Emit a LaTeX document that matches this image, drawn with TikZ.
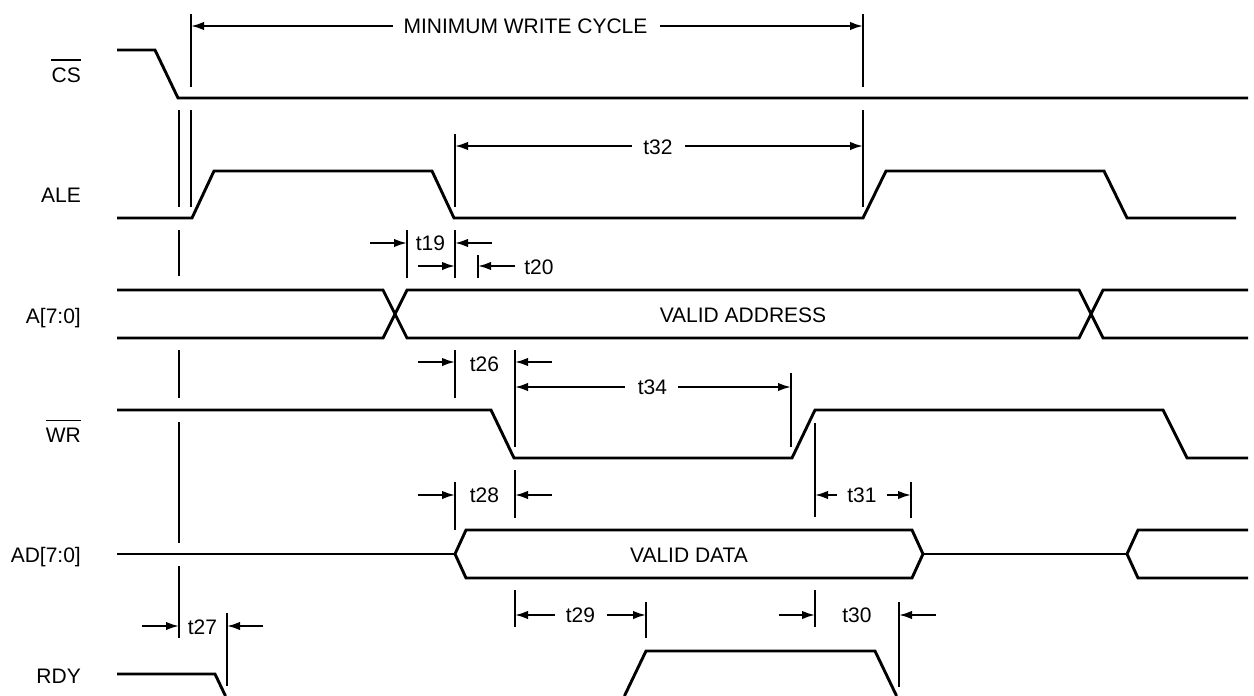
\documentclass[tikz,border=0pt]{standalone}
\usepackage{fontspec}
\setmainfont{Liberation Sans}
\usetikzlibrary{arrows.meta}
\begin{document}
\begin{tikzpicture}[x=1pt,y=-1pt,
  sig/.style={line width=2.9pt,line join=miter},
  ext/.style={line width=2pt},
  dimarr/.style={line width=2pt,-{Latex[length=13pt,width=8.5pt]}},
  lbl/.style={font=\fontsize{21}{25}\selectfont,inner sep=0pt,anchor=base east},
  txt/.style={font=\fontsize{21}{25}\selectfont,inner sep=0pt,anchor=base}]
\useasboundingbox (0,0) rectangle (1254,696);
% signal labels
\node[lbl] (lcs) at (81,82) {CS};
\draw[line width=1.6pt] ([yshift=7pt]lcs.north west) -- ([yshift=7pt]lcs.north east);
\node[lbl] (lale) at (81,202) {ALE};
\node[lbl] (la) at (81,323) {A[7:0]};
\node[lbl] (lwr) at (81,442) {WR};
\draw[line width=1.6pt] ([yshift=7pt]lwr.north west) -- ([yshift=7pt]lwr.north east);
\node[lbl] (lad) at (81,562) {AD[7:0]};
\node[lbl] (lrdy) at (81,683) {RDY};
% signals
\draw[sig] (117,50) -- (155,50) -- (178,98) -- (1248,98);
\draw[sig] (117,218) -- (192,218) -- (214,171) -- (432,171) -- (454,218) -- (863,218) -- (886,171) -- (1104,171) -- (1127,218) -- (1236,218);
\draw[sig] (117,290) -- (383,290) -- (407,338) -- (1079,338) -- (1103,290) -- (1248,290);
\draw[sig] (117,338) -- (383,338) -- (407,290) -- (1079,290) -- (1103,338) -- (1248,338);
\draw[sig] (117,410) -- (491,410) -- (514,458) -- (792,458) -- (815,410) -- (1163,410) -- (1187,458) -- (1248,458);
\draw[sig] (117,554) -- (455,554);
\draw[sig] (455,554) -- (466,530) -- (912,530) -- (923,554) -- (912,578) -- (466,578) -- cycle;
\draw[sig] (923,554) -- (1127,554);
\draw[sig] (1248,530) -- (1138,530) -- (1127,554) -- (1138,578) -- (1248,578);
\draw[sig] (117,674) -- (215,674) -- (225.5,696);
\draw[sig] (624.4,696) -- (646,651) -- (875,651) -- (896.6,696);
% bus texts
\node[txt] (va) at (743,322) {VALID ADDRESS};
\node[txt] (vd) at (689,562) {VALID DATA};
% extension lines
\draw[ext] (191,14) -- (191,87);
\draw[ext] (191,110) -- (191,207);
\draw[ext] (179,110) -- (179,207);
\draw[ext] (179,230) -- (179,276);
\draw[ext] (179,350) -- (179,398);
\draw[ext] (179,422) -- (179,543);
\draw[ext] (179,566) -- (179,638);
\draw[ext] (863,14) -- (863,87);
\draw[ext] (863,110) -- (863,207);
\draw[ext] (455,134) -- (455,207);
\draw[ext] (455,230) -- (455,278);
\draw[ext] (455,350) -- (455,398);
\draw[ext] (455,482) -- (455,530);
\draw[ext] (407,230) -- (407,278);
\draw[ext] (478,255) -- (478,278);
\draw[ext] (515,350) -- (515,447);
\draw[ext] (515,470) -- (515,518);
\draw[ext] (515,590) -- (515,627);
\draw[ext] (791,373) -- (791,447);
\draw[ext] (815,423) -- (815,517);
\draw[ext] (815,590) -- (815,627);
\draw[ext] (911,482) -- (911,518);
\draw[ext] (646,602) -- (646,638);
\draw[ext] (899,602) -- (899,687);
\draw[ext] (227,613) -- (227,686);
% dimension texts
\node[txt] (tmw) at (525.5,34) {MINIMUM WRITE CYCLE};
\node[txt] (t32) at (658,154) {t32};
\node[txt] (t19) at (430.5,250) {t19};
\node[txt] (t20) at (539,274) {t20};
\node[txt] (t26) at (484.5,371) {t26};
\node[txt] (t34) at (652.5,394) {t34};
\node[txt] (t28) at (484.5,502) {t28};
\node[txt] (t31) at (862,502) {t31};
\node[txt] (t29) at (580.5,622) {t29};
\node[txt] (t30) at (857,622) {t30};
\node[txt] (t27) at (202.5,634) {t27};
% dimension arrows
\draw[dimarr] (393,26) -- (191,26);
\draw[dimarr] (660,26) -- (863,26);
\draw[dimarr] (632,146) -- (455,146);
\draw[dimarr] (685,146) -- (863,146);
\draw[dimarr] (370,243) -- (407,243);
\draw[dimarr] (492,243) -- (455,243);
\draw[dimarr] (418,266) -- (455,266);
\draw[dimarr] (515,266) -- (478,266);
\draw[dimarr] (418,362) -- (455,362);
\draw[dimarr] (552,362) -- (515,362);
\draw[dimarr] (625,387) -- (515,387);
\draw[dimarr] (678,387) -- (791,387);
\draw[dimarr] (418,495) -- (455,495);
\draw[dimarr] (552,495) -- (515,495);
\draw[dimarr] (837,495) -- (815,495);
\draw[dimarr] (887,495) -- (911,495);
\draw[dimarr] (555,615) -- (515,615);
\draw[dimarr] (607,615) -- (646,615);
\draw[dimarr] (779,615) -- (815,615);
\draw[dimarr] (936,615) -- (899,615);
\draw[dimarr] (142,626) -- (179,626);
\draw[dimarr] (263,626) -- (227,626);
\end{tikzpicture}
\end{document}
